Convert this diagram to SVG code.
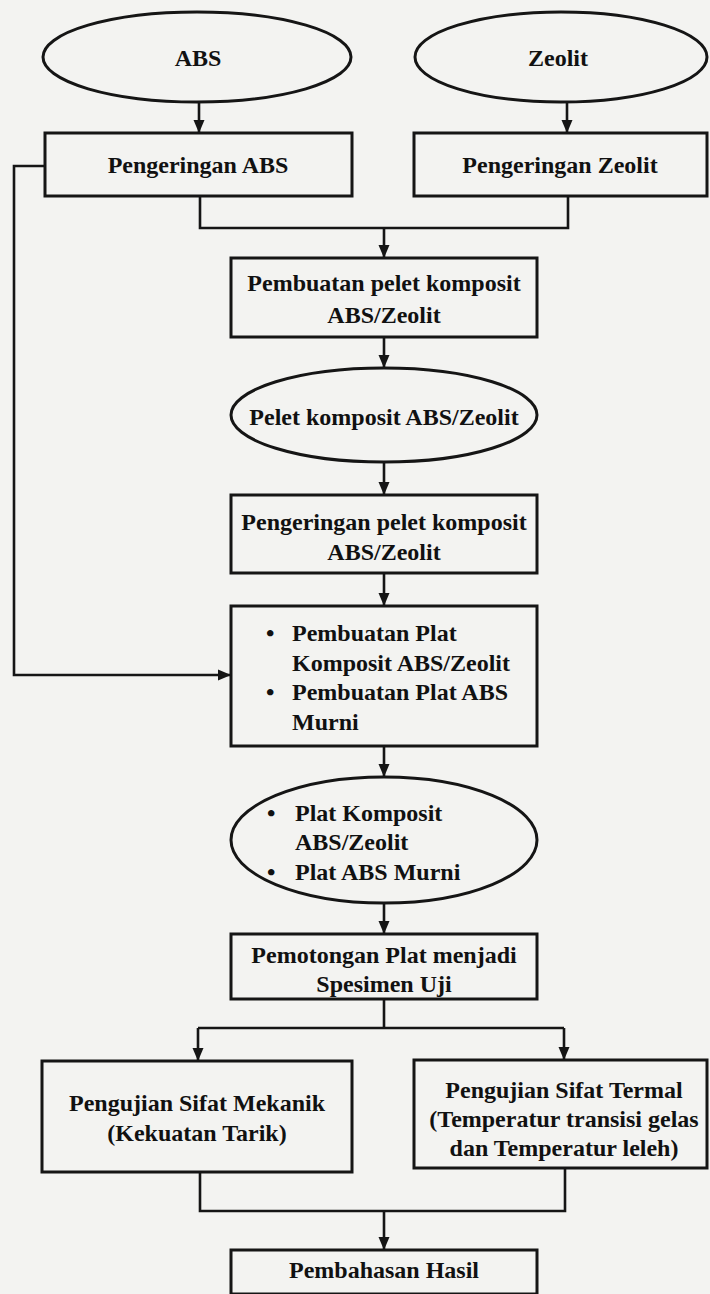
<svg xmlns="http://www.w3.org/2000/svg" width="710" height="1294" viewBox="0 0 710 1294">
<defs>
<marker id="ah" markerUnits="userSpaceOnUse" markerWidth="14" markerHeight="14" viewBox="0 0 14 14" refX="13" refY="7" orient="auto">
<path d="M0,1.5 L13,7 L0,12.5 Z" fill="#151515"/>
</marker>
<style>
.n{fill:none;stroke:#151515;stroke-width:3}
.c{fill:none;stroke:#151515;stroke-width:2.6}
.t{font-family:"Liberation Serif","Times New Roman",serif;font-weight:bold;font-size:24px;fill:#111}
.m{text-anchor:middle}
</style>
</defs>
<rect x="0" y="0" width="710" height="1294" fill="#f3f3f1"/>

<g id="connectors">
<path class="c" d="M199 102 V133" marker-end="url(#ah)"/>
<path class="c" d="M567 102 V133" marker-end="url(#ah)"/>
<path class="c" d="M200 196 V228 H568 V196"/>
<path class="c" d="M384 228 V258" marker-end="url(#ah)"/>
<path class="c" d="M384 337 V368" marker-end="url(#ah)"/>
<path class="c" d="M384 462 V495" marker-end="url(#ah)"/>
<path class="c" d="M384 573 V606" marker-end="url(#ah)"/>
<path class="c" d="M45 166 H14 V675 H231" marker-end="url(#ah)"/>
<path class="c" d="M384 746 V777" marker-end="url(#ah)"/>
<path class="c" d="M384 903 V934" marker-end="url(#ah)"/>
<path class="c" d="M384 999 V1028"/>
<path class="c" d="M198 1028 H564"/>
<path class="c" d="M198 1028 V1061" marker-end="url(#ah)"/>
<path class="c" d="M564 1028 V1060" marker-end="url(#ah)"/>
<path class="c" d="M200 1172 V1211 H565 V1168"/>
<path class="c" d="M384 1211 V1250" marker-end="url(#ah)"/>
</g>

<g id="abs">
<ellipse class="n" cx="197" cy="57" rx="154" ry="45"/>
<text class="t m" x="198" y="66">ABS</text>
</g>
<g id="zeolit">
<ellipse class="n" cx="561" cy="57" rx="146" ry="45"/>
<text class="t m" x="558" y="66">Zeolit</text>
</g>
<g id="pengeringan-abs">
<rect class="n" x="45" y="133" width="307" height="63"/>
<text class="t m" x="198" y="173">Pengeringan ABS</text>
</g>
<g id="pengeringan-zeolit">
<rect class="n" x="414" y="133" width="293" height="63"/>
<text class="t m" x="560" y="173">Pengeringan Zeolit</text>
</g>
<g id="pembuatan-pelet">
<rect class="n" x="231" y="258" width="306" height="79"/>
<text class="t m" x="384" y="291">Pembuatan pelet komposit</text>
<text class="t m" x="384" y="323">ABS/Zeolit</text>
</g>
<g id="pelet">
<ellipse class="n" cx="384" cy="415" rx="153" ry="47"/>
<text class="t m" x="384" y="425">Pelet komposit ABS/Zeolit</text>
</g>
<g id="pengeringan-pelet">
<rect class="n" x="231" y="495" width="306" height="78"/>
<text class="t m" x="384" y="530">Pengeringan pelet komposit</text>
<text class="t m" x="384" y="560">ABS/Zeolit</text>
</g>
<g id="pembuatan-plat">
<rect class="n" x="231" y="606" width="306" height="140"/>
<text class="t" x="266" y="641">•</text>
<text class="t" x="292" y="641">Pembuatan Plat</text>
<text class="t" x="292" y="671">Komposit ABS/Zeolit</text>
<text class="t" x="266" y="700">•</text>
<text class="t" x="292" y="700">Pembuatan Plat ABS</text>
<text class="t" x="292" y="730">Murni</text>
</g>
<g id="plat">
<ellipse class="n" cx="384" cy="840" rx="153" ry="63"/>
<text class="t" x="267" y="821">•</text>
<text class="t" x="295" y="821">Plat Komposit</text>
<text class="t" x="295" y="850">ABS/Zeolit</text>
<text class="t" x="267" y="880">•</text>
<text class="t" x="295" y="880">Plat ABS Murni</text>
</g>
<g id="pemotongan">
<rect class="n" x="231" y="934" width="306" height="65"/>
<text class="t m" x="384" y="963">Pemotongan Plat menjadi</text>
<text class="t m" x="384" y="992">Spesimen Uji</text>
</g>
<g id="mekanik">
<rect class="n" x="42" y="1061" width="310" height="111"/>
<text class="t m" x="197" y="1111">Pengujian Sifat Mekanik</text>
<text class="t m" x="197" y="1141">(Kekuatan Tarik)</text>
</g>
<g id="termal">
<rect class="n" x="414" y="1060" width="293" height="108"/>
<text class="t m" x="564" y="1098">Pengujian Sifat Termal</text>
<text class="t m" x="564" y="1127">(Temperatur transisi gelas</text>
<text class="t m" x="564" y="1156">dan Temperatur leleh)</text>
</g>
<g id="pembahasan">
<rect class="n" x="231" y="1250" width="306" height="44"/>
<text class="t m" x="384" y="1278">Pembahasan Hasil</text>
</g>
</svg>
